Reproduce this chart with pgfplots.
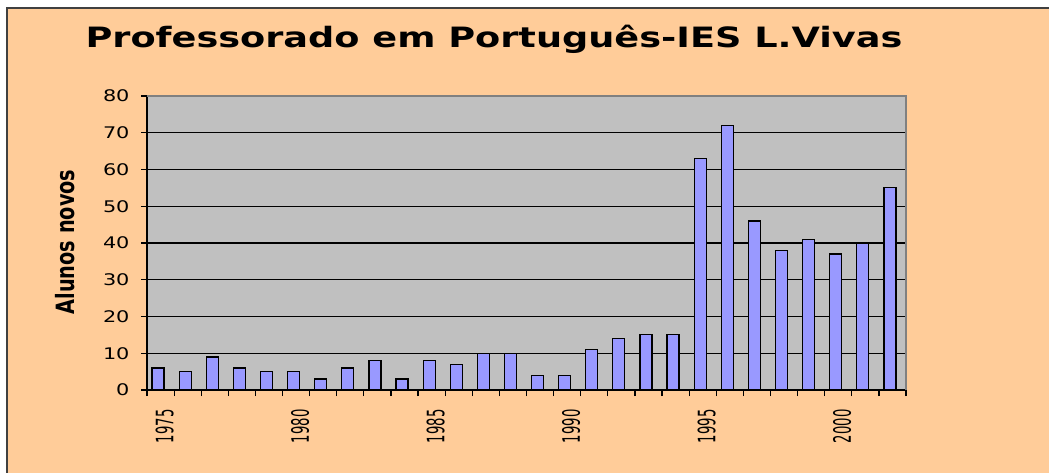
\documentclass[border=0pt]{standalone}
\usepackage{pgfplots}
\pgfplotsset{compat=1.18}
\usepackage{fontspec}
\setmainfont{DejaVu Sans}
\definecolor{peach}{HTML}{FFCC99}
\definecolor{plotgray}{HTML}{C0C0C0}
\definecolor{barblue}{HTML}{9999FF}
\definecolor{frame}{HTML}{404040}
\newcommand{\xl}[1]{\scalebox{1.1}[2]{\fontsize{12}{14}\selectfont #1}}
\newcommand{\yl}[1]{\scalebox{1.3}[1]{\fontsize{16}{19}\selectfont #1}}
\begin{document}
\begin{tikzpicture}[x=1pt,y=1pt]
\path[use as bounding box] (0,0) rectangle (1049,472);
\fill[white] (0,0) rectangle (1049,472);
\fill[peach] (7,-2) rectangle (1051,464);
\draw[line width=2pt, frame] (7,-2) -- (7,464) -- (1051,464);
\node[anchor=base] at (494,424) {\scalebox{1.31}[1]{\fontsize{28}{33}\selectfont\bfseries Professorado em Português-IES L.Vivas}};
\node[rotate=90] at (65,230) {\scalebox{1.07}[1.4]{\fontsize{18}{22}\selectfont\bfseries Alunos novos}};
\begin{axis}[
  at={(147pt,82pt)}, anchor=south west,
  scale only axis, width=759pt, height=294pt,
  xmin=1974.5, xmax=2002.5, ymin=0, ymax=80,
  axis background/.style={fill=plotgray},
  axis lines=left,
  axis line style={-, black, line width=1.5pt},
  tick align=outside,
  major tick length=6pt,
  minor tick length=6pt,
  tick style={black, line width=1.2pt},
  xtick={1975,1980,1985,1990,1995,2000},
  xticklabels={\xl{1975},\xl{1980},\xl{1985},\xl{1990},\xl{1995},\xl{2000}},
  major x tick style={draw=none},
  minor xtick={1974.5,1975.5,1976.5,1977.5,1978.5,1979.5,1980.5,1981.5,1982.5,1983.5,1984.5,1985.5,1986.5,1987.5,1988.5,1989.5,1990.5,1991.5,1992.5,1993.5,1994.5,1995.5,1996.5,1997.5,1998.5,1999.5,2000.5,2001.5,2002.5},
  xticklabel style={rotate=90, anchor=east, xshift=-10pt, yshift=-4pt},
  ytick={0,10,20,30,40,50,60,70,80},
  yticklabels={\yl{0},\yl{10},\yl{20},\yl{30},\yl{40},\yl{50},\yl{60},\yl{70},\yl{80}},
  yticklabel style={xshift=-8pt},
  ymajorgrids,
  grid style={black, line width=1.2pt},
  after end axis/.code={\draw[line width=1.5pt, gray] (rel axis cs:0,1) -- (rel axis cs:1,1) -- (rel axis cs:1,0);},
  clip=false,
]
\addplot[ybar, bar width=12pt, bar shift=-2.5pt, fill=barblue, draw=black, line width=1.2pt] coordinates {
(1975,6) (1976,5) (1977,9) (1978,6) (1979,5) (1980,5) (1981,3) (1982,6) (1983,8) (1984,3)
(1985,8) (1986,7) (1987,10) (1988,10) (1989,4) (1990,4) (1991,11) (1992,14) (1993,15) (1994,15)
(1995,63) (1996,72) (1997,46) (1998,38) (1999,41) (2000,37) (2001,40) (2002,55)
};
\end{axis}
\end{tikzpicture}
\end{document}
